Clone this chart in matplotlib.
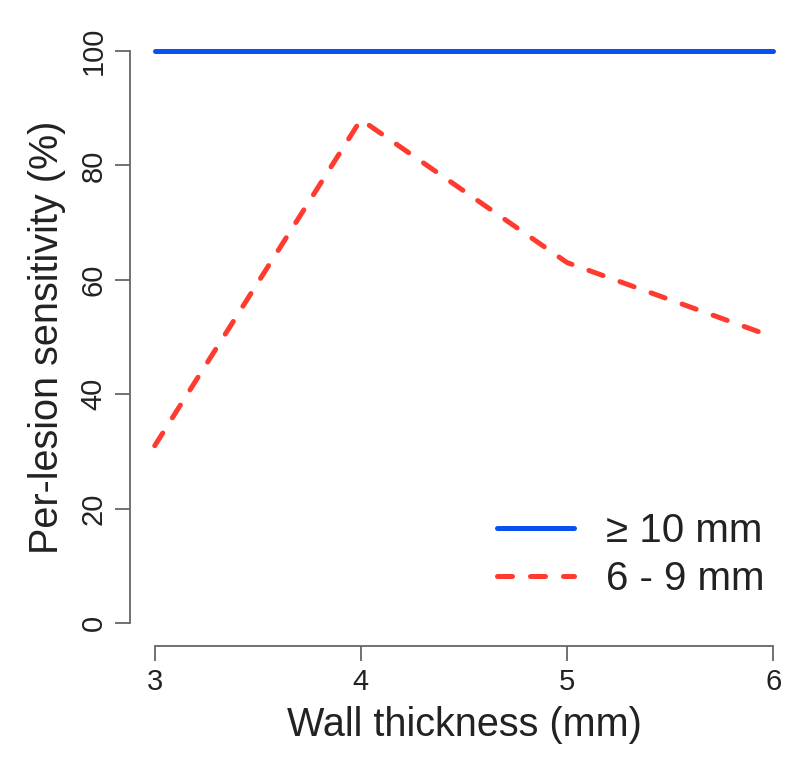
import numpy as np
import matplotlib.pyplot as plt

plt.rcParams['font.family'] = ['Liberation Sans', 'DejaVu Sans']

wall = [3, 4, 5, 6]
sens_large = [100, 100, 100, 100]
sens_mid = [31, 88, 63, 50]
labels = ['\u2265 10 mm', '6 - 9 mm']

fig = plt.figure(figsize=(8, 7.67), dpi=100)
ax = fig.add_axes([130/800, 0.1578, (798-130)/800, 0.9635-0.1578])

l1, = ax.plot(wall, sens_large, color='#0a50f0', lw=3.6, solid_capstyle='round')
l2, = ax.plot(wall, sens_mid, color='#ff3b30', lw=3.6, dashes=(3, 3.6),
              dash_capstyle='round', solid_joinstyle='round')

ax.set_xlim(2.88, 6.12)
ax.set_ylim(-4, 104)
ax.set_xticks(wall)
ax.set_yticks(np.arange(0, 101, 20))
for s in ['top', 'right']:
    ax.spines[s].set_visible(False)
ax.spines['left'].set_bounds(0, 100)
ax.spines['bottom'].set_bounds(3, 6)
for s in ['left', 'bottom']:
    ax.spines[s].set_color('#666666')
    ax.spines[s].set_linewidth(1.3)
ax.tick_params(colors='#666666', width=1.3, length=11, labelsize=21, labelcolor='#222222', pad=5)
plt.setp(ax.get_yticklabels(), rotation=90, va='center')

ax.set_xlabel('Wall thickness (mm)', fontsize=28.5, color='#222222', labelpad=7)
ax.set_ylabel('Per-lesion sensitivity (%)', fontsize=28.5, color='#222222', labelpad=10)

leg = ax.legend([l1, l2], labels, loc='upper left',
                bbox_to_anchor=(497/800, 1 - 512/767), bbox_transform=fig.transFigure,
                frameon=False, fontsize=29, handlelength=1.9, handletextpad=0.8,
                labelspacing=0.26, borderpad=0, borderaxespad=0)
for t in leg.get_texts():
    t.set_color('#222222')

fig.savefig('out.png', dpi=100)
